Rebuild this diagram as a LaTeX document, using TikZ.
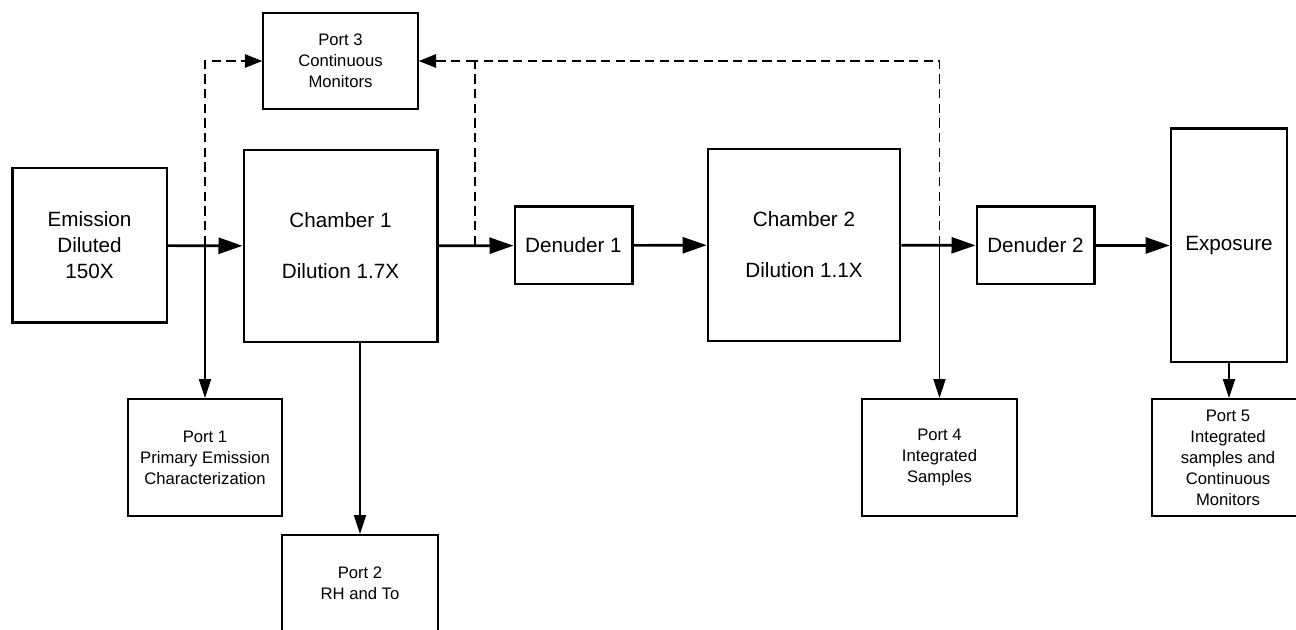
\documentclass[tikz,border=0pt]{standalone}
\usepackage{fontspec}
\setmainfont{Liberation Sans}
\usetikzlibrary{arrows.meta}
\begin{document}
\begin{tikzpicture}[x=0.75pt, y=-0.75pt,
  mainbox/.style={draw, line width=2pt, align=center, inner sep=0pt, font=\fontsize{15.5}{19.5}\selectfont},
  portbox/.style={draw, line width=1.4pt, align=center, inner sep=0pt, font=\fontsize{12.5}{15.75}\selectfont},
  flow/.style={line width=2pt, -{Triangle[length=18pt, width=12pt]}},
  tap/.style={line width=1.3pt, -{Triangle[length=14pt, width=9pt]}},
  monitor/.style={line width=1.3pt, dash pattern=on 7pt off 4pt},
  monitorarrow/.style={monitor, -{Triangle[length=13pt, width=10pt]}}]
\useasboundingbox (0,0) rectangle (1296,630);
\node[mainbox, minimum width=116pt, minimum height=116pt] (emission) at (89.5,245.5) {Emission\\Diluted\\150X};
\node[mainbox, minimum width=145pt, minimum height=144pt] (chamber1) at (340.5,246) {Chamber 1\\[18.75pt]Dilution 1.7X};
\node[mainbox, minimum width=88pt, minimum height=58pt] (denuder1) at (573.5,245.5) {Denuder 1};
\node[mainbox, minimum width=144pt, minimum height=144pt] (chamber2) at (804,245) {Chamber 2\\[18.75pt]Dilution 1.1X};
\node[mainbox, minimum width=88pt, minimum height=58pt] (denuder2) at (1035.5,245.5) {Denuder 2};
\node[mainbox, minimum width=87pt, minimum height=175pt] (exposure) at (1229,245.5) {Exposure};
\node[portbox, minimum width=116pt, minimum height=72pt] (port3) at (340.5,61) {Port 3\\Continuous\\Monitors};
\node[portbox, minimum width=115.5pt, minimum height=88pt] (port1) at (205,457.5) {Port 1\\Primary Emission\\Characterization};
\node[portbox, minimum width=117pt, minimum height=73pt] (port2) at (360,583.5) {Port 2\\RH and To};
\node[portbox, minimum width=116pt, minimum height=88pt] (port4) at (939.5,457.5) {Port 4\\Integrated\\Samples};
\node[portbox, minimum width=114pt, minimum height=88pt] (port5) at (1228,457.5) {Port 5\\Integrated\\samples and\\Continuous\\Monitors};
\coordinate (j1) at (205,245);
\coordinate (j2) at (475,245);
\coordinate (j3) at (939.5,245);
\coordinate (k) at (475,61);
\draw[flow] (emission) -- (chamber1);
\draw[flow] (chamber1) -- (denuder1);
\draw[flow] (denuder1) -- (chamber2);
\draw[flow] (chamber2) -- (denuder2);
\draw[flow] (denuder2) -- (exposure);
\draw[tap] (j1) -- (port1);
\draw[tap] (port2.north |- chamber1.south) -- (port2);
\draw[tap] (j3) -- (port4);
\draw[tap] (exposure.south) -- (exposure.south |- port5.north);
\draw[monitorarrow] (j1) |- (port3);
\draw[monitor] (j2) -- (k);
\draw[monitor] (j3) |- (k);
\draw[monitorarrow] (k) -- (port3);
\end{tikzpicture}
\end{document}
